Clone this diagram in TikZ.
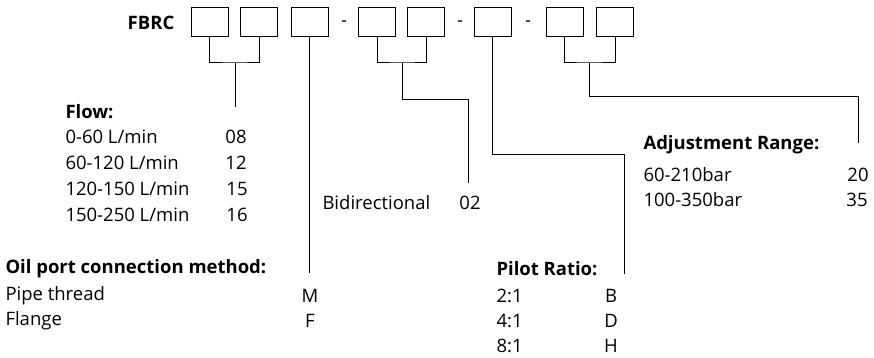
\documentclass[tikz,border=0pt]{standalone}
\usepackage{fontspec}
\setmainfont{Open Sans}
\usetikzlibrary{positioning}

\begin{document}
\begin{tikzpicture}[x=1pt,y=-1pt,line width=1pt,
    every node/.style={font=\fontsize{18.5}{21}\selectfont,inner sep=0pt},
    cell/.style={draw,rectangle,minimum width=37pt,minimum height=29pt},
    head/.style={anchor=west,font=\fontsize{18.5}{21}\selectfont\bfseries},
    item/.style={anchor=west},
    code/.style={anchor=center}]
  \useasboundingbox (0,0) rectangle (874,358);

  % code boxes
  \node [font=\fontsize{18.5}{21}\selectfont\bfseries] (fbrc) at (151,23) {FBRC};
  \node [cell] (b1) at (209.5,22.5) {}; \node [cell] (b2) at (259,22.5) {};
  \node [cell] (b3) at (309.5,22.5) {}; \node (d1) at (344,24) {-};
  \node [cell] (b4) at (377,22.5) {}; \node [cell] (b5) at (426,22.5) {};
  \node (d2) at (460,24) {-}; \node [cell] (b6) at (492.5,22.5) {};
  \node (d3) at (528,24) {-}; \node [cell] (b7) at (564.5,22.5) {};
  \node [cell] (b8) at (615,22.5) {};

  % flow
  \node [head] (flow) at (65,112) {Flow:};
  \node [item] (f1) at (65,137) {0-60 L/min}; \node [code] (c1) at (236,137) {08};
  \node [item] (f2) at (65,163) {60-120 L/min}; \node [code] (c2) at (236,163) {12};
  \node [item] (f3) at (65,189) {120-150 L/min}; \node [code] (c3) at (237,189) {15};
  \node [item] (f4) at (65,215) {150-250 L/min}; \node [code] (c4) at (237,215) {16};

  % oil port
  \node [head] (port) at (5,269) {Oil port connection method:};
  \node [item] (p1) at (5,296) {Pipe thread}; \node [code] (m) at (310,296) {M};
  \node [item] (p2) at (5,321) {Flange}; \node [code] (f) at (310,321) {F};

  % bidirectional
  \node [item] (bid) at (322,203) {Bidirectional}; \node [code] (c02) at (470,203) {02};

  % pilot ratio
  \node [head] (pilot) at (496,269) {Pilot Ratio:};
  \node [item] (r1) at (496,296) {2:1}; \node [code] (rb) at (611,296) {B};
  \node [item] (r2) at (496,321) {4:1}; \node [code] (rd) at (611,321) {D};
  \node [item] (r3) at (496,346) {8:1}; \node [code] (rh) at (611,346) {H};

  % adjustment range
  \node [head] (adj) at (643,145) {Adjustment Range:};
  \node [item] (a1) at (643,175) {60-210bar}; \node [code] (c20) at (858,175) {20};
  \node [item] (a2) at (643,200) {100-350bar}; \node [code] (c35) at (857,200) {35};

  % connectors
  \coordinate (j1) at (235,63); \coordinate (e1) at (235,107);
  \coordinate (e3) at (310,273);
  \coordinate (j2) at (402,63); \coordinate (k2) at (402,100);
  \coordinate (e2) at (468,183);
  \coordinate (k6) at (492.5,155); \coordinate (e6) at (624,274);
  \coordinate (j7) at (589,63); \coordinate (k7) at (589,97);
  \coordinate (e7) at (858,143);

  \draw (b1.south) |- (j1) -| (b2.south); \draw (j1) -- (e1);
  \draw (b3.south) -- (b3.south |- e3);
  \draw (b4.south) |- (j2) -| (b5.south); \draw (j2) -- (k2) -| (e2);
  \draw (b6.south) -- (k6) -| (e6);
  \draw (b7.south) |- (j7) -| (b8.south); \draw (j7) -- (k7) -| (e7);
\end{tikzpicture}
\end{document}
